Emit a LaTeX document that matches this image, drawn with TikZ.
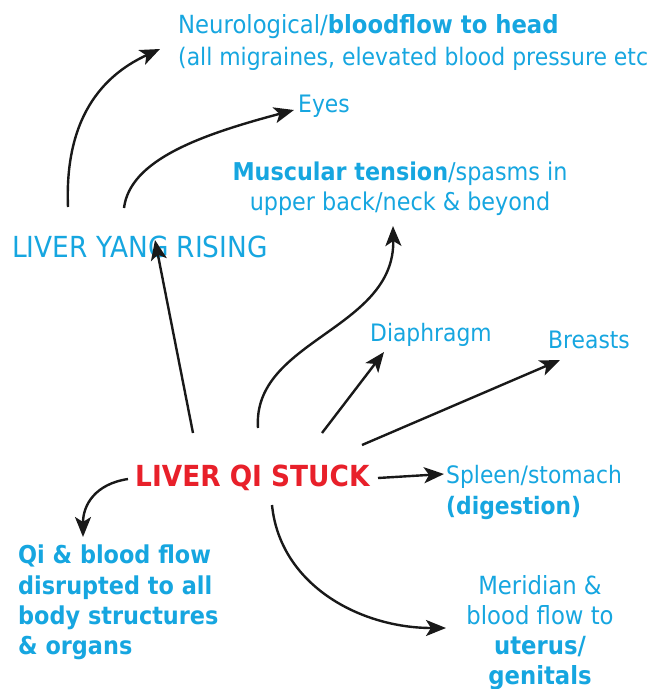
\documentclass[tikz,border=0pt]{standalone}
\usepackage{fontspec}
\setmainfont[FakeStretch=0.91]{DejaVu Sans}
\usetikzlibrary{arrows.meta}
\definecolor{tblue}{HTML}{16A6E0}
\definecolor{tred}{HTML}{E8202A}
\begin{document}
\begin{tikzpicture}[x=1pt,y=-1pt,
  lbl/.style={inner sep=0pt, text=tblue, font=\fontsize{24}{30}\selectfont},
  arr/.style={-{Stealth[length=20pt,width=16pt,inset=5pt]}, line width=2.4pt, draw=black!90}
]
\useasboundingbox (0,0) rectangle (653,689);
\fill[white] (0,0) rectangle (653,689);
% nodes
\node[lbl,anchor=base west,font=\fontsize{25}{30}\selectfont] (neuro) at (178,33) {Neurological/\textbf{bloodflow to head}};
\node[lbl,anchor=base west,font=\fontsize{24.1}{30}\selectfont] (neuro2) at (178,65) {(all migraines, elevated blood pressure etc};
\node[lbl,anchor=base west] (eyes) at (298,112) {Eyes};
\node[lbl,anchor=base,font=\fontsize{24.5}{30}\selectfont] (musc) at (400,180) {\textbf{Muscular tension}/spasms in};
\node[lbl,anchor=base,font=\fontsize{24.5}{30}\selectfont] (musc2) at (400,210) {upper back/neck \& beyond};
\node[lbl,anchor=base west,font=\fontsize{29}{30}\selectfont] (lyr) at (12,257) {LIVER YANG RISING};
\node[lbl,anchor=base west] (dia) at (370,341) {Diaphragm};
\node[lbl,anchor=base west] (bre) at (548,348) {Breasts};
\node[lbl,anchor=base west,text=tred,font=\bfseries\fontsize{29}{30}\selectfont] (lqs) at (135,486) {LIVER QI STUCK};
\node[lbl,anchor=base west] (spl) at (446,483) {Spleen/stomach};
\node[lbl,anchor=base west,font=\bfseries\fontsize{24}{30}\selectfont] (dig) at (446,514) {(digestion)};
\node[lbl,anchor=north west,align=left,font=\bfseries\fontsize{24.6}{30.3}\selectfont] (qi) at (18,545)
  {Qi \& blood flow\\disrupted to all\\body structures\\\& organs};
\node[lbl,anchor=north,align=center,font=\fontsize{25}{30}\selectfont] (mer) at (540,575)
  {Meridian \&\\blood flow to\\\textbf{uterus/}\\\textbf{genitals}};
% connectors
\draw[arr] ([shift={(56,-50)}]lyr.base west) .. controls (64,110) and (110,72) .. ([shift={(-18,16)}]neuro.base west);
\draw[arr] ([shift={(112,-49)}]lyr.base west) .. controls (130,160) and (200,135) .. ([shift={(-4,-2)}]eyes.base west);
\draw[arr] ([shift={(58,-53)}]lqs.base west) -- ([shift={(143,-17)}]lyr.base west);
\draw[arr] ([shift={(123,-58)}]lqs.base west) .. controls (252,340) and (395,330) .. ([shift={(-7,16)}]musc2.base);
\draw[arr] ([shift={(187,-53)}]lqs.base west) -- ([shift={(14,11)}]dia.base west);
\draw[arr] ([shift={(227,-41)}]lqs.base west) -- ([shift={(12,12)}]bre.base west);
\draw[arr] ([shift={(243,-8)}]lqs.base west) -- ([shift={(-2,-9)}]spl.base west);
\draw[arr] ([shift={(-7,-7)}]lqs.base west) .. controls (95,484) and (83,505) .. ([shift={(65,-8)}]qi.north west);
\draw[arr] ([shift={(137,19)}]lqs.base west) .. controls (280,585) and (360,628) .. ([shift={(-94,53)}]mer.north);
\end{tikzpicture}
\end{document}
